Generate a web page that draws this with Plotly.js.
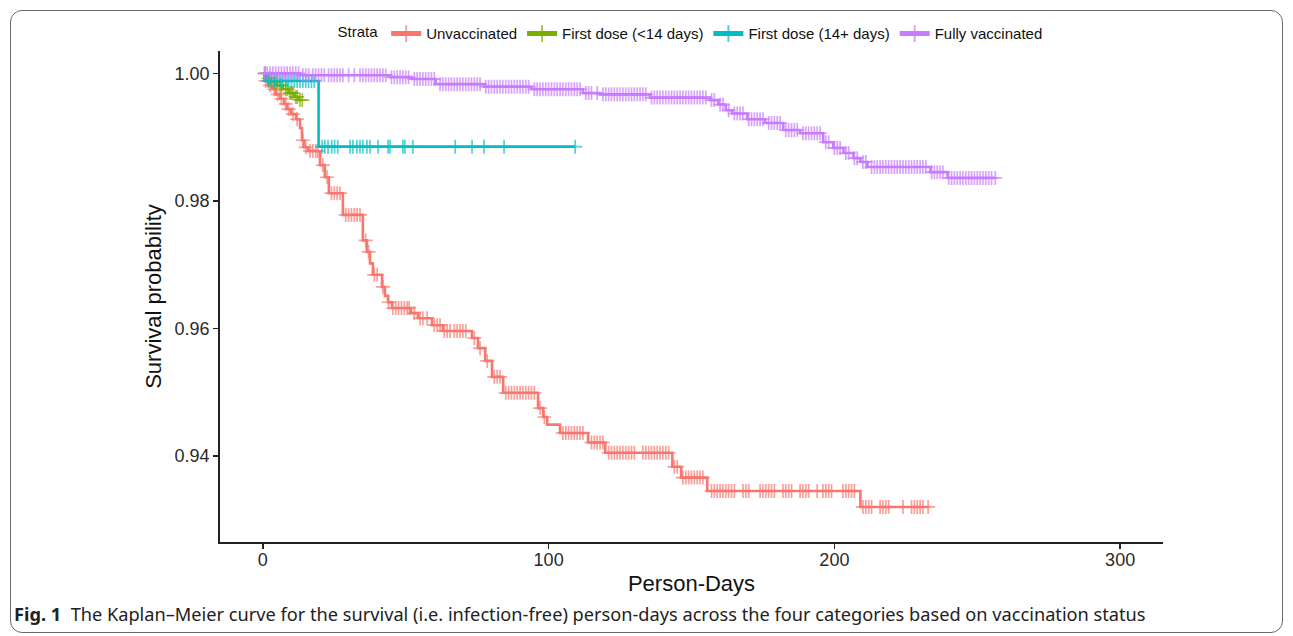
<!DOCTYPE html>
<html>
<head>
<meta charset="utf-8">
<script src="https://cdn.plot.ly/plotly-3.0.1.min.js"></script>
<style>
  html, body { margin: 0; padding: 0; background: #fff; }
  #wrap { position: relative; width: 1293px; height: 636px; }
  #chart { width: 1293px; height: 636px; }
  #frame { position: absolute; left: 10px; top: 10px; width: 1273px; height: 623px;
           border: 1px solid #6a6a6a; border-radius: 12px; pointer-events: none; box-sizing: border-box; }
</style>
</head>
<body>
<div id="wrap">
  <div id="chart"></div>
  <div id="frame"></div>
</div>
<script>
// ---------- data ----------
const strata = ["Unvaccinated", "First dose (<14 days)", "First dose (14+ days)", "Fully vaccinated"];
const colors = ["#F8766D", "#7CAE00", "#00BFC4", "#C77CFF"];

// Unvaccinated: event times and survival after each step
const unvTimes = [0, 0.5, 1.75, 3.2, 4.5, 6.0, 7.4, 8.4, 9.8, 11.6, 13.0, 13.7, 14.4, 15.8, 20.0, 21.7, 23.1, 28.0,
  35.0, 36.4, 37.5, 38.5, 41.7, 42.7, 43.8, 45.2, 51.8, 54.3, 59.2, 63.0, 73.2, 75.3, 77.8, 80.2, 84.1,
  96.3, 98.1, 99.5, 104.0, 113.8, 119.8, 143.3, 146.4, 155.5, 209.1];
const unvSurv = [1.0, 0.9988, 0.9981, 0.9975, 0.9967, 0.9960, 0.9952, 0.9944, 0.9936, 0.9928, 0.9914, 0.9895, 0.9884, 0.9878,
  0.9856, 0.9837, 0.9812, 0.9778, 0.9738, 0.9720, 0.9702, 0.9684, 0.9665, 0.9651, 0.9641, 0.9632, 0.9624,
  0.9616, 0.9605, 0.9596, 0.9585, 0.9569, 0.9549, 0.9524, 0.9499, 0.9475, 0.9461, 0.9449, 0.9436, 0.9421,
  0.9405, 0.9383, 0.9366, 0.9345, 0.9320];
const unvCensor = [1, 2.5, 4, 5.2, 6.5, 8, 9, 10.5, 12, 14, 15, 16.5, 17.5, 18.5, 19.2, 21, 22.5, 24, 25, 26, 27,
  29, 30, 31, 32, 33, 34, 36, 37, 39, 40, 42, 44, 45.5, 46.5, 47.5, 48.5, 49.5, 50.5, 51.2, 53, 55, 56, 57.5,
  60, 61, 62, 63.5, 64.5, 65.5, 67, 68, 69, 70, 71, 74, 76, 78.5, 81, 82, 83, 85, 86, 87, 88, 89, 90, 91, 92,
  93, 94, 95, 97, 98.5, 105, 106, 107, 108, 109, 110, 111, 112, 115, 116, 117, 118, 119, 121, 122, 123, 124,
  125, 126, 127, 128, 129, 130, 133, 134, 135, 136, 137, 138, 139, 140, 141, 142, 144, 145, 147, 148, 149,
  150, 151, 152, 153, 154, 157, 158, 159, 160, 161, 162, 163, 164, 165, 168, 169, 170, 174, 175, 176, 177,
  178, 179, 182, 183, 184, 185, 188, 189, 190, 191, 194, 196, 197, 198, 199, 203, 204, 205, 206, 207, 210,
  211, 212, 213, 216, 217, 218, 219, 224, 227, 228, 229, 230, 231, 232.8];

// First dose (<14 days)
const fd1Times = [0, 1.5, 3, 5, 7, 9, 11, 12.5];
const fd1Surv = [1.0, 0.9992, 0.9986, 0.9981, 0.9975, 0.9969, 0.9963, 0.9958];
const fd1Censor = [0.8, 2, 2.6, 4, 4.6, 6, 6.5, 8, 8.6, 9.5, 10, 10.5, 11.5, 12, 13, 13.8];

// First dose (14+ days)
const fd2Times = [0, 1.0, 19.5];
const fd2Surv = [1.0, 0.9988, 0.9885];
const fd2Censor = [2, 3, 4, 5, 6, 7, 8, 9, 10, 11, 12, 13, 14, 15, 16, 17, 18, 20.7, 21.7, 22.8, 24.1, 25.1, 26.2,
  30.5, 31.5, 32.9, 34, 35, 36.4, 37.5, 40.3, 43.8, 44.5, 49.0, 49.7, 52.5, 67.3, 73.2, 77.4, 84.4, 109.3];

// Fully vaccinated
const fvTimes = [0, 13, 44.5, 52, 60.5, 77.5, 94, 112, 118, 135.5, 156.6, 159.4, 162, 164.3, 169.5, 175.8, 182.1,
  188, 196.1, 199.6, 203.2, 206.7, 209.1, 211.6, 233.6, 239.6];
const fvSurv = [1.0, 0.9997, 0.9994, 0.9991, 0.9983, 0.9979, 0.9975, 0.9969, 0.9967, 0.9962, 0.9958, 0.9951,
  0.9942, 0.9937, 0.9928, 0.9922, 0.9911, 0.9906, 0.9892, 0.9883, 0.9875, 0.9867, 0.9861, 0.9853, 0.9845, 0.9836];
const fvCensor = [0.5, 1.5, 2.5, 3.5, 4.5, 5.5, 6.5, 7.5, 8.5, 9.5, 10.5, 11.5, 12.5, 14, 15, 16, 17.5, 18.5, 19.5,
  20.5, 21.5, 23, 24, 25, 26, 27, 28, 30, 32, 34, 35, 36, 37, 38, 39, 40, 41, 42, 43, 45, 46, 47, 48, 49, 50,
  51, 53, 54, 55, 56, 57, 58, 59, 60, 62, 63, 64, 65, 66, 67, 68, 69, 70, 71, 72, 73, 74, 75, 76, 78, 79, 80,
  81, 82, 83, 84, 85, 86, 87, 88, 89, 90, 91, 92, 93, 95, 96, 97, 98, 99, 100, 101, 102, 103, 104, 105, 106,
  107, 108, 109, 110, 111, 113, 114, 115, 117, 119, 120, 121, 122, 123, 124, 125, 126, 127, 128, 129, 130,
  131, 132, 133, 134, 136, 137, 138, 139, 140, 141, 142, 143, 144, 145, 146, 147, 148, 149, 150, 151, 152,
  153, 154, 155, 157, 158, 160, 161, 163, 165, 166, 167, 168, 170, 171, 172, 173, 174, 175, 177, 178, 179,
  180, 181, 183, 184, 185, 186, 187, 189, 190, 191, 192, 193, 194, 195, 197, 198, 200, 201, 202, 204, 205,
  207, 208, 210, 211, 213, 214, 215, 216, 217, 218, 219, 220, 221, 222, 223, 224, 225, 226, 227, 228, 229,
  230, 231, 232, 234, 235, 236, 237, 238, 240, 241, 242, 243, 244, 245, 246, 247, 248, 249, 250, 251, 252,
  253, 254, 255, 256.3];

const xTicks = [0, 100, 200, 300];
const yTicks = [0.94, 0.96, 0.98, 1.00];
const yTickText = ["0.94", "0.96", "0.98", "1.00"];

// ---------- build traces ----------
function survAt(times, surv, t) {
  let s = surv[0];
  for (let i = 0; i < times.length; i++) { if (times[i] <= t) s = surv[i]; else break; }
  return s;
}
function buildTrace(name, color, times, surv, censor) {
  const pts = [];
  times.forEach((t, i) => pts.push({ x: t, y: surv[i], c: false }));
  censor.forEach(t => pts.push({ x: t, y: survAt(times, surv, t), c: true }));
  pts.sort((a, b) => a.x - b.x || (a.c - b.c));
  return {
    type: "scatter", mode: "lines+markers", name: name,
    x: pts.map(p => p.x), y: pts.map(p => p.y),
    line: { shape: "hv", color: color, width: 2.6 },
    marker: { symbol: "cross-thin-open", size: pts.map(p => p.c ? 10 : 0),
              color: color, line: { color: color, width: 1.7 } },
    hoverinfo: "x+y+name"
  };
}
const traces = [
  buildTrace(strata[0], colors[0], unvTimes, unvSurv, unvCensor),
  buildTrace(strata[1], colors[1], fd1Times, fd1Surv, fd1Censor),
  buildTrace(strata[2], colors[2], fd2Times, fd2Surv, fd2Censor),
  buildTrace(strata[3], colors[3], fvTimes, fvSurv, fvCensor)
];

const font = "Liberation Sans, Arial, sans-serif";
const layout = {
  width: 1293, height: 636, autosize: false,
  margin: { l: 220, r: 130, t: 51, b: 93.5 },
  paper_bgcolor: "rgba(0,0,0,0)", plot_bgcolor: "#fff",
  font: { family: font, color: "#000" },
  showlegend: true,
  legend: {
    orientation: "h", x: 0.5, xanchor: "center", y: 1.035, yanchor: "middle",
    title: { text: "Strata", side: "left", font: { size: 15, color: "#111" } },
    font: { size: 15, color: "#111" }, itemsizing: "constant", itemwidth: 30,
    bgcolor: "rgba(0,0,0,0)"
  },
  xaxis: {
    range: [-15, 315], tickvals: xTicks, ticks: "outside", ticklen: 5, tickwidth: 1.3, tickcolor: "#222",
    showline: true, linecolor: "#222", linewidth: 1.8, showgrid: false, zeroline: false,
    tickfont: { size: 18, color: "#2a2a2a" }, ticklabelstandoff: -4,
    title: { text: "Person-Days", font: { size: 22, color: "#111" }, standoff: 6 }
  },
  yaxis: {
    range: [0.9265, 1.0035], tickvals: yTicks, ticktext: yTickText, ticks: "outside", ticklen: 5,
    tickwidth: 1.3, tickcolor: "#222",
    showline: true, linecolor: "#222", linewidth: 1.8, showgrid: false, zeroline: false,
    tickfont: { size: 18, color: "#2a2a2a" },
    title: { text: "Survival probability", font: { size: 22, color: "#111" }, standoff: 7 }
  },
  annotations: [{
    xref: "paper", yref: "paper", x: -0.2206, y: -0.1475, xanchor: "left", yanchor: "middle",
    showarrow: false, align: "left",
    text: "<b>Fig. 1</b>  The Kaplan–Meier curve for the survival (i.e. infection-free) person-days across the four categories based on vaccination status",
    font: { family: "Noto Sans, sans-serif", size: 18.2, color: "#222" }
  }]
};
Plotly.newPlot("chart", traces, layout, { displayModeBar: false, staticPlot: true });
</script>
</body>
</html>
